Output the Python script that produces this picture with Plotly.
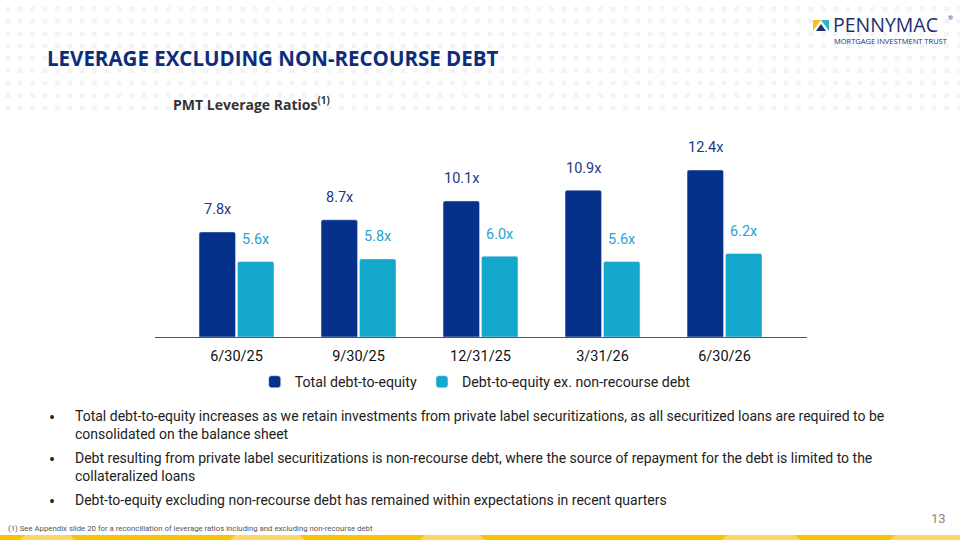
"""
    PMT leverage ratios slide, redrawn with plotly.
"""

import plotly.graph_objects as go

# Chart data
QUARTERS = ['6/30/25', '9/30/25', '12/31/25', '3/31/26', '6/30/26']
TOTAL_DEBT_TO_EQUITY = [7.8, 8.7, 10.1, 10.9, 12.4]
EX_NON_RECOURSE = [5.6, 5.8, 6.0, 5.6, 6.2]
SERIES_NAMES = ['Total debt-to-equity', 'Debt-to-equity ex. non-recourse debt']

# Slide texts
TITLE = 'LEVERAGE EXCLUDING NON-RECOURSE DEBT'
CHART_TITLE = 'PMT Leverage Ratios<sup>(1)</sup>'
BULLETS = [
    ['Total debt-to-equity increases as we retain investments from private label securitizations, '
     'as all securitized loans are required to be',
     'consolidated on the balance sheet'],
    ['Debt resulting from private label securitizations is non-recourse debt, '
     'where the source of repayment for the debt is limited to the',
     'collateralized loans'],
    ['Debt-to-equity excluding non-recourse debt has remained within expectations in recent quarters'],
]
FOOTNOTE = ('(1) See Appendix slide 20 for a reconciliation of leverage ratios '
            'including and excluding non-recourse debt')
PAGE_NUMBER = '13'

NAVY = '#06318A'
CYAN = '#14A9CC'
W, H = 960, 540


def px_x(x):
    """Pixel x to paper x"""
    return x / W


def px_y(y):
    """Pixel y (from top) to paper y"""
    return 1 - y / H


fig = go.Figure()

# Dotted header pattern
dot_x, dot_y = [], []
for j in range(9):
    for i in range(78):
        dot_x.append(8 + 12.35 * i)
        dot_y.append(9 + 12.35 * j)
fig.add_trace(go.Scatter(
    x=dot_x, y=dot_y, mode='markers',
    marker=dict(symbol='square', size=4.5, color='#f0f3f8'),
    xaxis='x2', yaxis='y2', showlegend=False, hoverinfo='skip'
))

fig.add_trace(go.Bar(
    x=QUARTERS, y=TOTAL_DEBT_TO_EQUITY, name=SERIES_NAMES[0],
    marker=dict(color=NAVY, cornerradius=2), hoverinfo='skip'
))
fig.add_trace(go.Bar(
    x=QUARTERS, y=EX_NON_RECOURSE, name=SERIES_NAMES[1],
    marker=dict(color=CYAN, cornerradius=2), hoverinfo='skip'
))

annotations = []
# Value labels
for q, v in zip(QUARTERS, TOTAL_DEBT_TO_EQUITY):
    annotations.append(dict(
        x=q, y=v, xref='x', yref='y', text=f'{v:.1f}x', showarrow=False,
        xshift=-19, yshift=22, font=dict(family='Roboto', size=14.5, color='#1b3a86')
    ))
for q, v in zip(QUARTERS, EX_NON_RECOURSE):
    annotations.append(dict(
        x=q, y=v, xref='x', yref='y', text=f'{v:.1f}x', showarrow=False,
        xshift=19, yshift=22, font=dict(family='Roboto', size=14.5, color='#27a4d0')
    ))

# Titles
annotations.append(dict(
    x=px_x(45), y=px_y(58), xref='paper', yref='paper', xanchor='left', yanchor='middle',
    text=f'<b>{TITLE}</b>', showarrow=False,
    font=dict(family='Open Sans', size=20.5, color='#0c2d7c')
))
annotations.append(dict(
    x=px_x(171), y=px_y(104), xref='paper', yref='paper', xanchor='left', yanchor='middle',
    text=f'<b>{CHART_TITLE}</b>', showarrow=False,
    font=dict(family='Open Sans', size=14, color='#333333')
))

# Bullets
line_y = [[416, 434], [458, 476], [500]]
for lines, ys in zip(BULLETS, line_y):
    annotations.append(dict(
        x=px_x(52), y=px_y(ys[0] + 1), xref='paper', yref='paper', xanchor='center',
        yanchor='middle', text='•', showarrow=False,
        font=dict(family='Roboto', size=18, color='#222222')
    ))
    for line, y in zip(lines, ys):
        annotations.append(dict(
            x=px_x(73), y=px_y(y), xref='paper', yref='paper', xanchor='left',
            yanchor='middle', text=line, showarrow=False,
            font=dict(family='Roboto', size=14, color='#222222')
        ))

# Footnote and page number
annotations.append(dict(
    x=px_x(6), y=px_y(528), xref='paper', yref='paper', xanchor='left', yanchor='middle',
    text=FOOTNOTE, showarrow=False, font=dict(family='Roboto', size=7.8, color='#555555')
))
annotations.append(dict(
    x=px_x(938), y=px_y(518), xref='paper', yref='paper', xanchor='center', yanchor='middle',
    text=PAGE_NUMBER, showarrow=False, font=dict(family='Roboto', size=13, color='#888888')
))

# Logo
annotations.append(dict(
    x=px_x(831), y=px_y(25), xref='paper', yref='paper', xanchor='left', yanchor='middle',
    text='PENNYMAC', showarrow=False,
    font=dict(family='Open Sans', size=19.5, color='#1d2f6f')
))
annotations.append(dict(
    x=px_x(946), y=px_y(18), xref='paper', yref='paper', xanchor='left', yanchor='middle',
    text='®', showarrow=False, font=dict(family='Open Sans', size=6, color='#1d2f6f')
))
annotations.append(dict(
    x=px_x(832), y=px_y(41), xref='paper', yref='paper', xanchor='left', yanchor='middle',
    text='MORTGAGE INVESTMENT TRUST', showarrow=False,
    font=dict(family='Open Sans', size=7.5, color='#1d2f6f')
))

shapes = []
# Logo icon
shapes.append(dict(type='path', xref='paper', yref='paper', line=dict(width=0),
                   fillcolor='#f6c21b',
                   path=f'M {px_x(813)} {px_y(20)} L {px_x(821)} {px_y(20)} '
                        f'L {px_x(813)} {px_y(31)} Z'))
shapes.append(dict(type='path', xref='paper', yref='paper', line=dict(width=0),
                   fillcolor='#2bb3c9',
                   path=f'M {px_x(821)} {px_y(20)} L {px_x(829)} {px_y(20)} '
                        f'L {px_x(829)} {px_y(31)} Z'))
shapes.append(dict(type='path', xref='paper', yref='paper', line=dict(width=0),
                   fillcolor='#1d2f6f',
                   path=f'M {px_x(816)} {px_y(31)} L {px_x(821)} {px_y(24)} '
                        f'L {px_x(826)} {px_y(31)} Z'))

# Bottom gold band
shapes.append(dict(type='rect', xref='paper', yref='paper', line=dict(width=0),
                   x0=0, x1=1, y0=0, y1=px_y(535), fillcolor='#f8c300'))
for x0, x1 in [(20, 70), (230, 300), (420, 480), (722, 795), (890, 960)]:
    shapes.append(dict(type='path', xref='paper', yref='paper', line=dict(width=0),
                       fillcolor='#fbd866',
                       path=f'M {px_x(x0)} 0 L {px_x(x0 + 5)} {px_y(535)} '
                            f'L {px_x(x1)} {px_y(535)} L {px_x(x1 + 5)} 0 Z'))

fig.update_layout(
    width=W,
    height=H,
    margin=dict(l=0, r=0, t=0, b=0),
    plot_bgcolor='rgba(0,0,0,0)',
    paper_bgcolor='white',
    barmode='group',
    bargap=0.37,
    bargroupgap=0.05,
    font=dict(family='Roboto', color='#111111'),
    xaxis=dict(
        domain=[px_x(155), px_x(807)],
        range=[-0.668, 4.676],
        showline=True, linecolor='#555555', linewidth=1,
        showgrid=False, zeroline=False, ticks='',
        ticklabelstandoff=6,
        tickfont=dict(family='Roboto', size=14.5, color='#111111'),
        fixedrange=True
    ),
    yaxis=dict(
        domain=[px_y(337), px_y(130)],
        range=[0, 15.37],
        visible=False,
        fixedrange=True
    ),
    xaxis2=dict(domain=[0, 1], range=[0, W], visible=False, anchor='y2', fixedrange=True),
    yaxis2=dict(domain=[0, 1], range=[H, 0], visible=False, anchor='x2', fixedrange=True),
    legend=dict(
        orientation='h',
        x=0.495, xanchor='center',
        y=px_y(382), yanchor='middle',
        font=dict(family='Roboto', size=14.2, color='#222222'),
        itemclick=False, itemdoubleclick=False,
        traceorder='normal'
    ),
    annotations=annotations,
    shapes=shapes,
    showlegend=True
)

# Drop the default page margin so the slide sits at the window's corner
fig.write_html('out.html', config={'displayModeBar': False},
               post_script="document.body.style.margin = '0';")
